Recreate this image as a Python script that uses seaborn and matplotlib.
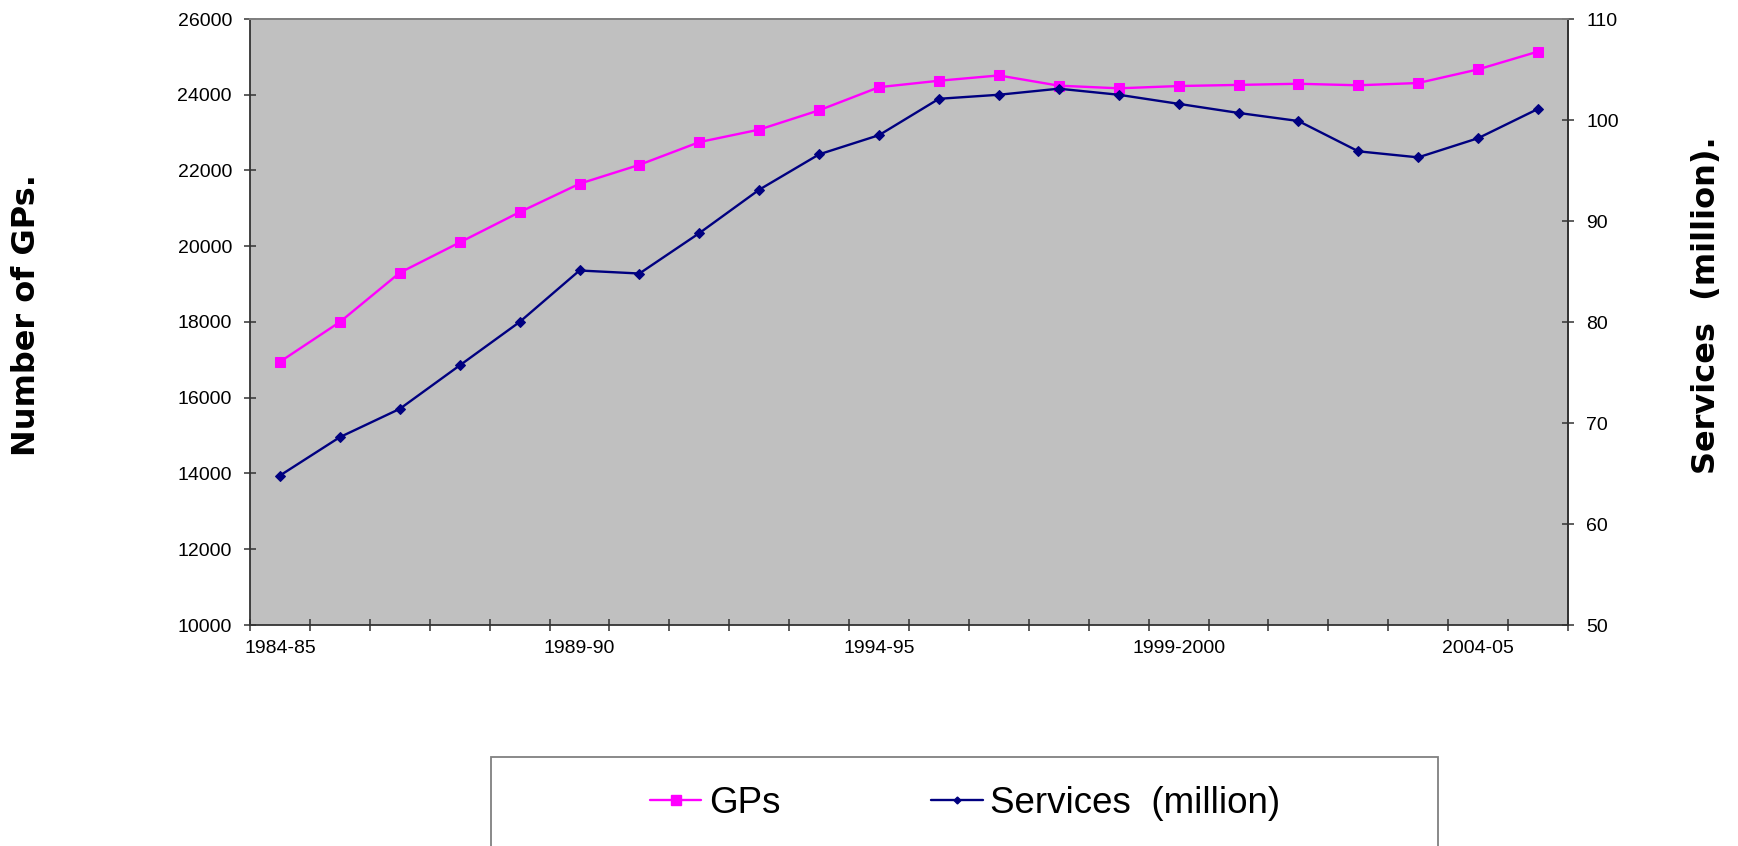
import numpy as np
import pandas as pd
import matplotlib
matplotlib.use("Agg")
import matplotlib.pyplot as plt
from matplotlib.lines import Line2D
from matplotlib.patches import Rectangle
import seaborn as sns

# Financial years
years = ["1984-85", "1985-86", "1986-87", "1987-88", "1988-89", "1989-90",
         "1990-91", "1991-92", "1992-93", "1993-94", "1994-95", "1995-96",
         "1996-97", "1997-98", "1998-99", "1999-2000", "2000-01", "2001-02",
         "2002-03", "2003-04", "2004-05", "2005-06"]

# Number of general practitioners (left axis)
gps = [16950, 18000, 19300, 20100, 20900, 21650, 22150, 22750, 23080, 23590,
       24200, 24370, 24510, 24240, 24170, 24230, 24260, 24290, 24250, 24310,
       24670, 25140]

# Services billed, in millions (right axis)
services = [64.8, 68.6, 71.4, 75.7, 80.0, 85.1, 84.8, 88.8, 93.1, 96.6,
            98.5, 102.1, 102.5, 103.1, 102.5, 101.6, 100.7, 99.9, 96.9, 96.3,
            98.2, 101.1]

label_every = 5

sns.set_theme(style="ticks")
plt.rcParams["font.family"] = ["Liberation Sans", "DejaVu Sans"]
plt.rcParams["text.color"] = "black"

W, H = 1738, 846
fig = plt.figure(figsize=(W / 100, H / 100), dpi=100)
ax = fig.add_axes([250 / W, 1 - 625 / H, (1568 - 250) / W, (625 - 19) / H])
ax.set_facecolor("#C0C0C0")
ax2 = ax.twinx()

df = pd.DataFrame({"pos": np.arange(len(years)), "year": years,
                   "gps": gps, "services": services})

pink = "#FF00FF"
navy = "#000080"

sns.lineplot(data=df, x="pos", y="gps", ax=ax, color=pink, marker="s",
             markersize=7, markeredgecolor=pink, linewidth=1.7, sort=False)
sns.lineplot(data=df, x="pos", y="services", ax=ax2, color=navy, marker="D",
             markersize=5.5, markeredgecolor=navy, linewidth=1.7, sort=False)

n = len(years)
for a in (ax, ax2):
    a.set_xlim(-0.5, n - 0.5)
    a.set_xlabel("")
    a.set_ylabel("")

ax.set_ylim(10000, 26000)
ax.set_yticks(np.arange(10000, 26001, 2000))
ax2.set_ylim(50, 110)
ax2.set_yticks(np.arange(50, 111, 10))

# Category boundaries carry the tick marks, labels sit at category centres
ax.set_xticks(np.arange(-0.5, n, 1.0))
ax.set_xticklabels([])
label_pos = np.arange(0, n, label_every)
ax.set_xticks(label_pos, minor=True)
ax.set_xticklabels([years[i] for i in label_pos], minor=True)
ax.tick_params(axis="x", which="minor", length=0, pad=11, labelsize=14,
               labelcolor="black")
ax.tick_params(axis="x", which="major", direction="inout", length=9,
               width=1.1, color="#333333")
ax.tick_params(axis="y", direction="inout", length=8, width=1.1,
               color="#333333", pad=9, labelsize=14, labelcolor="black")
ax2.tick_params(axis="y", direction="inout", length=8, width=1.1,
                color="#333333", pad=9, labelsize=14, labelcolor="black")

for a in (ax, ax2):
    a.grid(False)
    for side in ("left", "bottom", "right"):
        a.spines[side].set_color("#333333")
        a.spines[side].set_linewidth(1.3)
    a.spines["top"].set_color("#808080")
    a.spines["top"].set_linewidth(1.3)
ax2.spines["left"].set_visible(False)
ax2.spines["bottom"].set_visible(False)

title_font = dict(fontsize=23, fontweight="bold", color="black",
                  family=["DejaVu Sans"])
fig.text(27 / W, 1 - 315 / H, "Number of GPs.", rotation=90, ha="center",
         va="center", **title_font)
fig.text(1706 / W, 1 - 305 / H, "Services  (million).", rotation=90,
         ha="center", va="center", **title_font)

# Legend box, open at the bottom edge of the figure
fig.add_artist(Rectangle((491 / W, -0.05), (1438 - 491) / W, 0.05 + (1 - 757 / H),
                         transform=fig.transFigure, facecolor="none",
                         edgecolor="#808080", linewidth=1.3))
handles = [
    Line2D([], [], color=pink, marker="s", markersize=7, linewidth=1.7),
    Line2D([], [], color=navy, marker="D", markersize=3.5, linewidth=1.7),
]
fig.legend(handles, ["GPs", "Services  (million)"], loc="center",
           bbox_to_anchor=(965 / W, 1 - 803 / H), ncol=2, frameon=False,
           fontsize=26.5, handlelength=1.4, handletextpad=0.2,
           columnspacing=4.1, labelcolor="black")

fig.savefig("out.png", dpi=100)
